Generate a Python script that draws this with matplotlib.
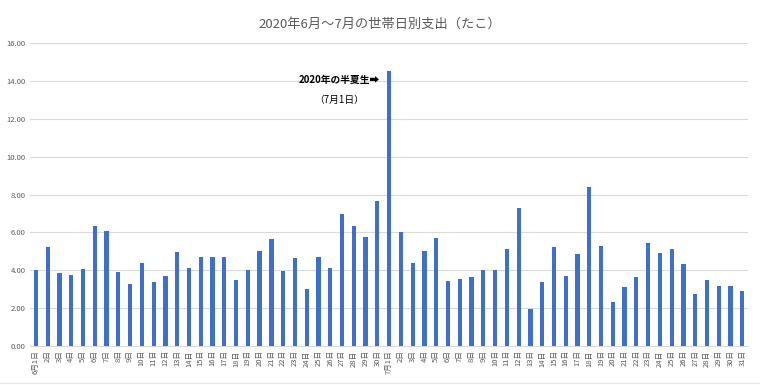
import matplotlib.pyplot as plt
import numpy as np

plt.rcParams['font.family'] = ['Noto Sans CJK JP', 'DejaVu Sans']

# Daily spending (June 1 - July 31, 2020)
june = [4.00, 5.26, 3.85, 3.78, 4.06, 6.32, 6.09, 3.92, 3.27, 4.40,
        3.38, 3.69, 4.98, 4.10, 4.68, 4.71, 4.68, 3.47, 4.00, 5.01,
        5.65, 3.96, 4.64, 3.02, 4.68, 4.10, 7.00, 6.32, 5.77, 7.65]
july = [14.53, 6.02, 4.40, 5.01, 5.70, 3.43, 3.52, 3.64, 4.00, 4.03,
        5.12, 7.27, 1.97, 3.38, 5.26, 3.69, 4.87, 8.39, 5.29, 2.32,
        3.10, 3.64, 5.44, 4.91, 5.12, 4.36, 2.76, 3.47, 3.17, 3.20, 2.92]
labels = (["6月1日"] + [f"{d}日" for d in range(2, 31)]
          + ["7月1日"] + [f"{d}日" for d in range(2, 32)])
values = june + july

fig = plt.figure(figsize=(7.6, 3.85), dpi=100)
ax = fig.add_axes([0.0395, 0.101, 0.945, 0.787])

x = np.arange(len(values))
ax.bar(x, values, width=0.36, color='#3F6FC6', zorder=3)

ax.set_ylim(0, 16)
ax.set_yticks(np.arange(0, 17, 2))
ax.set_yticklabels([f"{v:.2f}" for v in np.arange(0, 17, 2)],
                   fontsize=5.5, color='#595959')
ax.set_xlim(-0.5, len(values) - 0.5)
ax.set_xticks(x)
ax.set_xticklabels(labels, rotation=90, fontsize=5.5, color='#595959')
ax.tick_params(length=0, pad=3)
ax.grid(axis='y', color='#d9d9d9', linewidth=0.8, zorder=0)
for s in ['top', 'right', 'left']:
    ax.spines[s].set_visible(False)
ax.spines['bottom'].set_color('#d9d9d9')

ax.text(29.2, 14.04, "2020年の半夏生➡", ha='right', va='center',
        fontsize=7, fontweight='bold', color='black')
ax.text(25.8, 13.0, "（7月1日）", ha='center', va='center',
        fontsize=7, color='black')

fig.suptitle("2020年6月～7月の世帯日別支出（たこ）", y=0.955,
             fontsize=9.5, color='#595959')

# faint chart border line along the bottom
fig.add_artist(plt.Line2D([0, 1], [0.006, 0.006], color='#e6e6e6',
                          linewidth=0.8, transform=fig.transFigure))

fig.savefig("out.png", dpi=100)
